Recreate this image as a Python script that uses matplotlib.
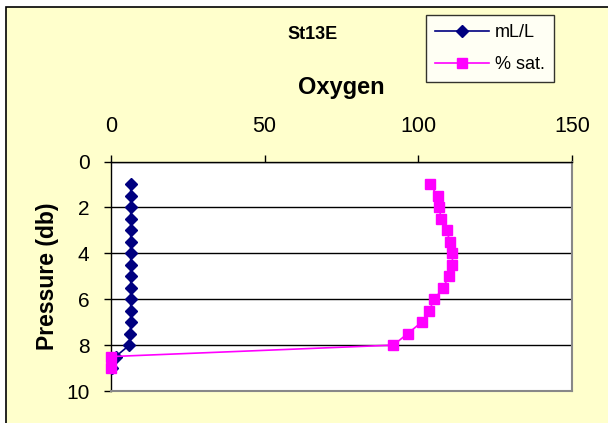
import matplotlib.pyplot as plt
from matplotlib.patches import Rectangle

# station St13E oxygen profile
pressure = [1, 1.5, 2, 2.5, 3, 3.5, 4, 4.5, 5, 5.5, 6, 6.5, 7, 7.5, 8, 8.5, 9]
ml_per_l = [6.4, 6.4, 6.4, 6.4, 6.4, 6.4, 6.4, 6.4, 6.4, 6.4, 6.4, 6.4, 6.4, 6.3, 6.0, 1.5, 0.2]
pct_sat = [103.8, 106.3, 106.8, 107.4, 109.2, 110.3, 111.1, 111.1, 109.9, 108.1,
           105.2, 103.5, 101.1, 96.5, 91.9, 0.0, 0.0]
x_ticks = [0, 50, 100, 150]
y_ticks = [0, 2, 4, 6, 8, 10]

plt.rcParams['font.family'] = 'Liberation Sans'

W, H = 608, 423
fig = plt.figure(figsize=(W / 100, H / 100), dpi=100)
fig.patch.set_facecolor('white')
# chart area background with dark border
fig.patches.append(Rectangle((6 / W, -0.1), 1.2, 1.1 - 7 / H,
                             transform=fig.transFigure, facecolor='#FFFFCC',
                             edgecolor='black', linewidth=1.2, zorder=-10))

ax = fig.add_axes([111 / W, 1 - 391 / H, (572 - 111) / W, (391 - 161.5) / H])
ax.set_facecolor('white')

ax.plot(ml_per_l, pressure, color='#000080', marker='D', markersize=6,
        linewidth=1.2, label='mL/L', clip_on=False, zorder=3)
ax.plot(pct_sat, pressure, color='#FF00FF', marker='s', markersize=7,
        linewidth=1.2, label='% sat.', clip_on=False, zorder=3)

ax.set_xlim(0, 150)
ax.set_ylim(10, 0)
ax.set_xticks(x_ticks)
ax.set_yticks(y_ticks)
ax.xaxis.tick_top()
ax.xaxis.set_label_position('top')
ax.tick_params(axis='both', direction='out', length=5, width=1)
ax.tick_params(axis='x', labelsize=15.5, pad=12.5)
ax.tick_params(axis='y', labelsize=15, pad=10.5)

ax.yaxis.grid(True, color='black', linewidth=1)
for s in ['left', 'top']:
    ax.spines[s].set_color('black')
    ax.spines[s].set_linewidth(1)
for s in ['right', 'bottom']:
    ax.spines[s].set_color('#888888')
    ax.spines[s].set_linewidth(1.5)

ax.set_xlabel('Oxygen', fontsize=17, fontweight='bold', labelpad=16)
ax.set_ylabel('Pressure (db)', fontsize=16.5, fontweight='bold', labelpad=5)

fig.text(312.5 / W, 1 - 34.5 / H, 'St13E', ha='center', va='center',
         fontsize=13, fontweight='bold')

leg = fig.legend(loc='upper left', bbox_to_anchor=(426 / W, 1 - 15 / H),
                 fontsize=13, frameon=True, fancybox=False,
                 handlelength=3.0, borderpad=0.5, labelspacing=0.85,
                 borderaxespad=0, handletextpad=0.3)
leg.get_frame().set_edgecolor('black')
leg.get_frame().set_linewidth(1)

fig.savefig('out.png', dpi=100)
